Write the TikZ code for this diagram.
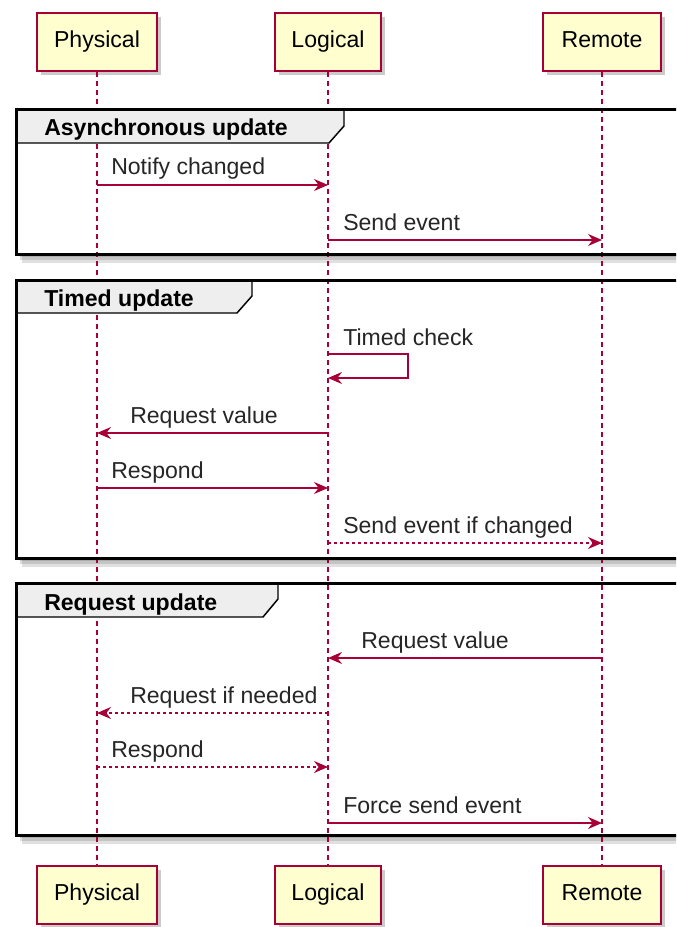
\documentclass[tikz,border=0pt]{standalone}
\usepackage{fontspec}
\setmainfont{Liberation Sans}
\usetikzlibrary{arrows.meta,shadows}
\definecolor{pu}{HTML}{A80036}
\definecolor{pbg}{HTML}{FEFECE}
\definecolor{tabbg}{HTML}{EEEEEE}
\begin{document}
\begin{tikzpicture}[x=0.75pt,y=-0.75pt,
  font=\fontsize{17.3}{20}\selectfont,
  part/.style={draw=pu, fill=pbg, line width=1.5pt, minimum height=43.5pt, inner sep=0pt,
    text height=12.4pt, text depth=3.6pt,
    drop shadow={shadow xshift=3pt, shadow yshift=-3pt, fill=black!45, opacity=0.45}},
  life/.style={pu, line width=0.8pt, dash pattern=on 3.75pt off 3pt},
  msg/.style={pu, line width=1.1pt, -{Stealth[length=10.5pt,width=9pt,inset=3.5pt]}},
  dmsg/.style={msg, dash pattern=on 2.25pt off 2.25pt},
  lbl/.style={anchor=base west, inner sep=0pt, text=black!85},
  frm/.style={draw=black, line width=2.25pt},
  tabs/.style={draw=black, fill=tabbg, line width=1.1pt},
  flbl/.style={anchor=base west, inner sep=0pt, font=\fontsize{17.3}{20}\selectfont\bfseries},
  fshadow/.style={fill=black, opacity=0.12}]
\useasboundingbox (0,0) rectangle (676,927);
\clip (0,0) rectangle (676,927);
\fill[white] (0,0) rectangle (676,927);

% frame shadows
\foreach \t/\b in {110/254, 280/558, 583/835}{
  \fill[fshadow] (20,\b) rectangle (700,\b+3);
  \fill[fshadow] (20,\b) rectangle (700,\b+6);
  \fill[fshadow] (22,\b) rectangle (700,\b+9);
}

% participants
\node[part, minimum width=90pt] (pt) at (97,42) {Physical};
\node[part, minimum width=80pt] (lt) at (328,42) {Logical};
\node[part, minimum width=88pt] (rt) at (602,42) {Remote};
\node[part, minimum width=90pt] (pb) at (97,895) {Physical};
\node[part, minimum width=80pt] (lb) at (328,895) {Logical};
\node[part, minimum width=88pt] (rb) at (602,895) {Remote};

% lifelines
\draw[life] (pt.south) -- (pb.north);
\draw[life] (lt.south) -- (lb.north);
\draw[life] (rt.south) -- (rb.north);

% frames
\filldraw[tabs] (16,110) -- (344,110) -- (344,126) -- (329,143) -- (16,143) -- cycle;
\node[flbl] (f1) at (44,136) {Asynchronous update};
\draw[frm] (16,110) rectangle (700,254);

\filldraw[tabs] (16,280) -- (252,280) -- (252,296) -- (237,313) -- (16,313) -- cycle;
\node[flbl] (f2) at (44,306) {Timed update};
\draw[frm] (16,280) rectangle (700,558);

\filldraw[tabs] (16,583) -- (278,583) -- (278,599) -- (263,617) -- (16,617) -- cycle;
\node[flbl] (f3) at (44,610) {Request update};
\draw[frm] (16,583) rectangle (700,835);

% message end points
\coordinate (a1) at (97,185);  \coordinate (b1) at (328,185);
\coordinate (a2) at (328,240); \coordinate (b2) at (602,240);
\coordinate (a3) at (328,354); \coordinate (c3) at (408,354); \coordinate (d3) at (408,378); \coordinate (b3) at (328,378);
\coordinate (a4) at (328,433); \coordinate (b4) at (97,433);
\coordinate (a5) at (97,488);  \coordinate (b5) at (328,488);
\coordinate (a6) at (328,543); \coordinate (b6) at (602,543);
\coordinate (a7) at (602,658); \coordinate (b7) at (328,658);
\coordinate (a8) at (328,713); \coordinate (b8) at (97,713);
\coordinate (a9) at (97,767);  \coordinate (b9) at (328,767);
\coordinate (a10) at (328,823); \coordinate (b10) at (602,823);

\draw[msg] (a1) -- (b1);
\node[lbl] (t1) at (111,175) {Notify changed};
\draw[msg] (a2) -- (b2);
\node[lbl] (t2) at (343,230) {Send event};
\draw[msg] (a3) -- (c3) -- (d3) -- (b3);
\node[lbl] (t3) at (343,345) {Timed check};
\draw[msg] (a4) -- (b4);
\node[lbl] (t4) at (130,423) {Request value};
\draw[msg] (a5) -- (b5);
\node[lbl] (t5) at (111,478) {Respond};
\draw[dmsg] (a6) -- (b6);
\node[lbl] (t6) at (343,533) {Send event if changed};
\draw[msg] (a7) -- (b7);
\node[lbl] (t7) at (361,648) {Request value};
\draw[dmsg] (a8) -- (b8);
\node[lbl] (t8) at (130,703) {Request if needed};
\draw[dmsg] (a9) -- (b9);
\node[lbl] (t9) at (111,757) {Respond};
\draw[msg] (a10) -- (b10);
\node[lbl] (t10) at (343,813) {Force send event};
\end{tikzpicture}
\end{document}
